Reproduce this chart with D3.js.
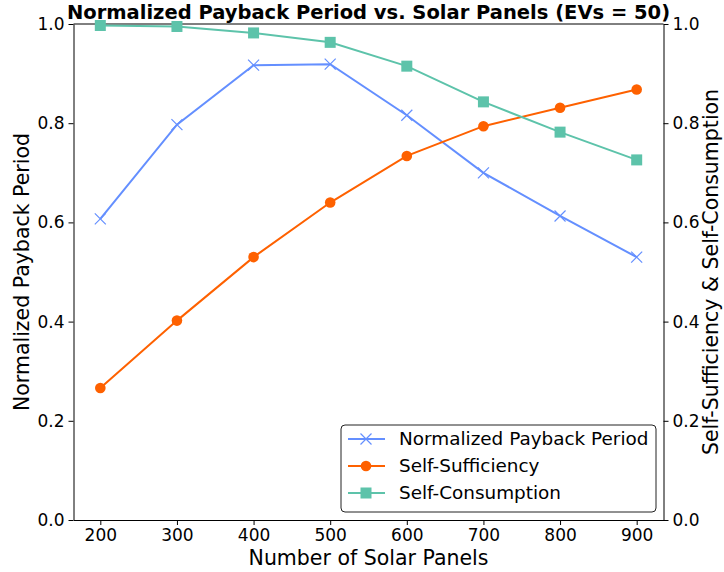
<!DOCTYPE html>
<html>
<head>
<meta charset="utf-8">
<script src="https://cdn.jsdelivr.net/npm/d3@7"></script>
<style>
  body { margin: 0; background: #fff; }
  svg { font-family: "DejaVu Sans", sans-serif; }
</style>
</head>
<body>
<svg width="724" height="572"></svg>
<script>
// data
const panels = [200, 300, 400, 500, 600, 700, 800, 900];
const payback = [0.607, 0.797, 0.917, 0.919, 0.816, 0.700, 0.613, 0.530];
const selfSufficiency = [0.266, 0.402, 0.530, 0.640, 0.734, 0.794, 0.831, 0.868];
const selfConsumption = [0.997, 0.995, 0.982, 0.963, 0.915, 0.843, 0.782, 0.726];
const yTicks = [0, 0.2, 0.4, 0.6, 0.8, 1.0];

let svg = d3.select("svg");
const plotLeft = 73.5, plotRight = 663.5, plotTop = 24, plotBottom = 520;

let x = d3.scaleLinear().domain([165, 935]).range([plotLeft, plotRight]);
let yL = d3.scaleLinear().domain([0, 1]).range([plotBottom, plotTop]);
let yR = d3.scaleLinear().domain([0, 1]).range([plotBottom, plotTop]);

function styleAxis(g) {
  g.selectAll("path").attr("stroke", "#000").attr("stroke-width", 1);
  g.selectAll("line").attr("stroke", "#000").attr("stroke-width", 1);
  g.selectAll("text").attr("font-size", 17).attr("fill", "#000")
    .attr("font-family", "DejaVu Sans, sans-serif");
}

svg.append("g").attr("transform", `translate(0,${plotBottom})`)
  .call(d3.axisBottom(x).tickValues(panels).tickSize(5).tickPadding(4).tickSizeOuter(0))
  .call(styleAxis);
svg.append("g").attr("transform", `translate(${plotLeft},0)`)
  .call(d3.axisLeft(yL).tickValues(yTicks).tickFormat(d3.format(".1f")).tickSize(5).tickPadding(4).tickSizeOuter(0))
  .call(styleAxis);
svg.append("g").attr("transform", `translate(${plotRight},0)`)
  .call(d3.axisRight(yR).tickValues(yTicks).tickFormat(d3.format(".1f")).tickSize(5).tickPadding(4).tickSizeOuter(0))
  .call(styleAxis);
// top spine
svg.append("line").attr("x1", plotLeft).attr("x2", plotRight).attr("y1", plotTop).attr("y2", plotTop)
  .attr("stroke", "#000");

const series = [
  {name: "Normalized Payback Period", values: payback, color: "#648fff", marker: "x", y: yL},
  {name: "Self-Sufficiency", values: selfSufficiency, color: "#fe6100", marker: "o", y: yR},
  {name: "Self-Consumption", values: selfConsumption, color: "#5dc3aa", marker: "s", y: yR}
];

function drawMarker(g, type, color) {
  if (type === "x") {
    g.append("path").attr("d", "M-5.5,-5.5L5.5,5.5M-5.5,5.5L5.5,-5.5")
      .attr("stroke", color).attr("stroke-width", 1.2).attr("fill", "none");
  } else if (type === "o") {
    g.append("circle").attr("r", 5.3).attr("fill", color);
  } else {
    g.append("rect").attr("x", -5.5).attr("y", -5.5).attr("width", 11).attr("height", 11)
      .attr("fill", color);
  }
}

let line = d3.line();
series.forEach(s => {
  let pts = panels.map((p, i) => [x(p), s.y(s.values[i])]);
  svg.append("path").attr("d", line(pts)).attr("fill", "none")
    .attr("stroke", s.color).attr("stroke-width", 2);
  pts.forEach(pt => {
    let g = svg.append("g").attr("transform", `translate(${pt[0]},${pt[1]})`);
    drawMarker(g, s.marker, s.color);
  });
});

// title and axis labels
svg.append("text").attr("x", (plotLeft + plotRight) / 2).attr("y", 19)
  .attr("text-anchor", "middle").attr("font-size", 19.5).attr("font-weight", "bold")
  .text("Normalized Payback Period vs. Solar Panels (EVs = 50)");
svg.append("text").attr("x", (plotLeft + plotRight) / 2).attr("y", 565)
  .attr("text-anchor", "middle").attr("font-size", 20.5)
  .text("Number of Solar Panels");
svg.append("text").attr("transform", `translate(29,${(plotTop + plotBottom) / 2}) rotate(-90)`)
  .attr("text-anchor", "middle").attr("font-size", 20.5)
  .text("Normalized Payback Period");
svg.append("text").attr("transform", `translate(718,${(plotTop + plotBottom) / 2}) rotate(-90)`)
  .attr("text-anchor", "middle").attr("font-size", 20.5)
  .text("Self-Sufficiency & Self-Consumption");

// legend
let legend = svg.append("g");
legend.append("rect").attr("x", 341).attr("y", 425).attr("width", 315).attr("height", 87)
  .attr("rx", 4).attr("fill", "#fff").attr("fill-opacity", 0.8)
  .attr("stroke", "#222").attr("stroke-width", 1);
series.forEach((s, i) => {
  let cy = 439 + i * 27;
  legend.append("line").attr("x1", 348).attr("x2", 385).attr("y1", cy).attr("y2", cy)
    .attr("stroke", s.color).attr("stroke-width", 2);
  let g = legend.append("g").attr("transform", `translate(366,${cy})`);
  drawMarker(g, s.marker, s.color);
  legend.append("text").attr("x", 399).attr("y", cy).attr("dy", "0.35em")
    .attr("font-size", 18.4).text(s.name);
});
</script>
</body>
</html>
